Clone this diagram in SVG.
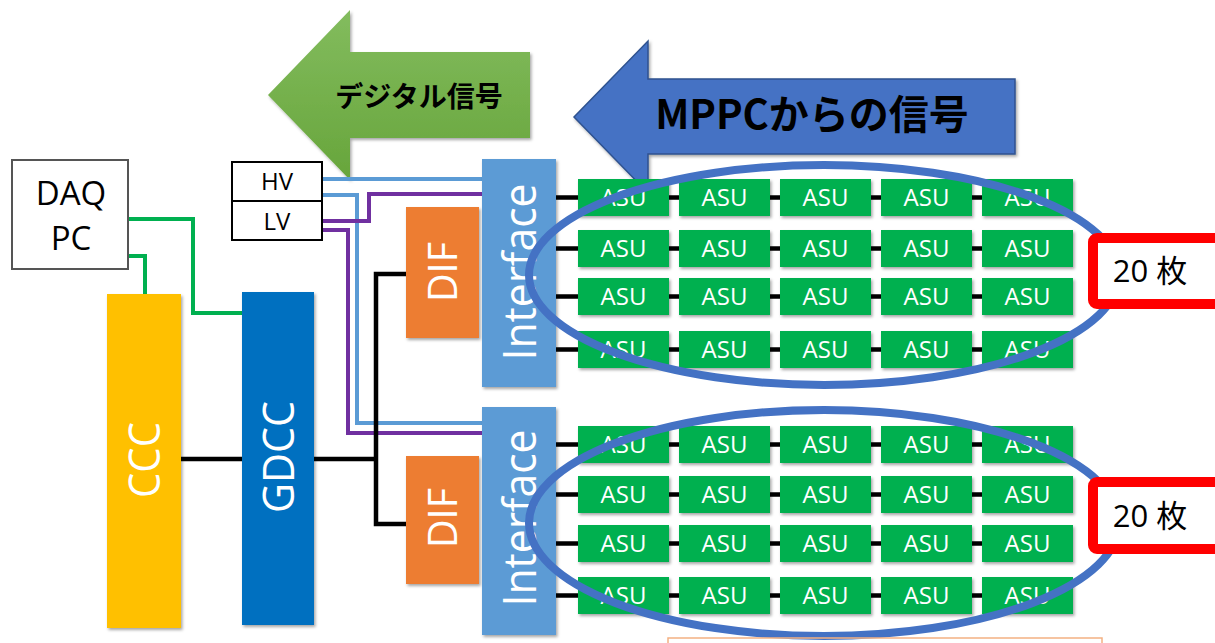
<svg xmlns="http://www.w3.org/2000/svg" width="1215" height="643" viewBox="0 0 1215 643">
<defs>
<style>
.lbl{font-family:"Open Sans","Liberation Sans",sans-serif;fill:#fff;}
.blk{font-family:"Open Sans","Liberation Sans",sans-serif;fill:#000;}
.jp{font-family:"Noto Sans CJK JP","Noto Sans",sans-serif;font-weight:bold;fill:#000;}
.asu{fill:#00B050;filter:url(#sh);}
.asut{font-family:"Open Sans","Liberation Sans",sans-serif;fill:#fff;font-size:24px;text-anchor:middle;}
.bl{stroke:#000;stroke-width:4.5;fill:none;}
.gr{stroke:#00B050;stroke-width:4;fill:none;}
.hv{stroke:#5B9BD5;stroke-width:4;fill:none;}
.lv{stroke:#7030A0;stroke-width:4;fill:none;}
.ell{fill:none;stroke:#4472C4;stroke-width:8;}
.red{fill:#fff;stroke:#FF0000;stroke-width:10;}
</style>
<filter id="sh" x="-10%" y="-10%" width="130%" height="130%">
<feDropShadow dx="1.5" dy="2" stdDeviation="1.5" flood-color="#000" flood-opacity="0.35"/>
</filter>
<linearGradient id="gg" x1="0" y1="0" x2="0" y2="1">
<stop offset="0" stop-color="#83BC5E"/>
<stop offset="1" stop-color="#67A53B"/>
</linearGradient>
</defs>
<rect width="1215" height="643" fill="#fff"/>

<g id="arrow-digital">
<polygon points="268,95 350,10 350,52 530,52 530,138 350,138 350,180" fill="url(#gg)" filter="url(#sh)"/>
<text class="jp" x="419" y="107" font-size="28" text-anchor="middle">デジタル信号</text>
</g>
<g id="arrow-mppc">
<polygon points="574,117 648,41 648,79 1015,79 1015,154 648,154 648,193" fill="#4472C4" stroke="#2F528F" stroke-width="1.5" filter="url(#sh)"/>
<text class="jp" x="812" y="129" font-size="40" text-anchor="middle">MPPCからの信号</text>
</g>

<g id="connectors">
<polyline class="gr" points="128,219 193,219 193,313 242,313"/>
<polyline class="gr" points="128,256 145,256 145,294"/>
<polyline class="hv" points="322,179 482,179"/>
<polyline class="hv" points="322,195 357,195 357,423 482,423"/>
<polyline class="lv" points="322,221 369,221 369,194 482,194"/>
<polyline class="lv" points="322,230 348,230 348,433 482,433"/>
<polyline class="bl" points="181,459 242,459"/>
<polyline class="bl" points="314,459 376,459"/>
<polyline class="bl" points="406,274 376,274 376,524 406,524"/>
<g id="asu-links">
<path class="bl" d="M556,197.5H578M556,248.5H578M556,296.5H578M556,349.5H578M556,444.5H578M556,494.5H578M556,543.5H578M556,595.5H578"/>
<path class="bl" d="M669,197.5H679M770,197.5H780M871,197.5H881M972,197.5H982M669,248.5H679M770,248.5H780M871,248.5H881M972,248.5H982M669,296.5H679M770,296.5H780M871,296.5H881M972,296.5H982M669,349.5H679M770,349.5H780M871,349.5H881M972,349.5H982"/>
<path class="bl" d="M669,444.5H679M770,444.5H780M871,444.5H881M972,444.5H982M669,494.5H679M770,494.5H780M871,494.5H881M972,494.5H982M669,543.5H679M770,543.5H780M871,543.5H881M972,543.5H982M669,595.5H679M770,595.5H780M871,595.5H881M972,595.5H982"/>
</g>
</g>

<g id="daq-pc">
<rect x="12" y="160" width="116" height="109" fill="#fff" stroke="#555" stroke-width="2"/>
<text class="blk" x="71" y="205" font-size="33" text-anchor="middle">DAQ</text>
<text class="blk" x="71" y="250" font-size="33" text-anchor="middle">PC</text>
</g>
<g id="hv">
<rect x="232" y="162" width="90" height="39" fill="#fff" stroke="#000" stroke-width="2"/>
<text class="blk" x="277" y="190" font-size="24" text-anchor="middle">HV</text>
</g>
<g id="lv">
<rect x="232" y="201" width="90" height="39" fill="#fff" stroke="#000" stroke-width="2"/>
<text class="blk" x="277" y="230" font-size="24" text-anchor="middle">LV</text>
</g>
<g id="ccc">
<rect x="107" y="294" width="74" height="334" fill="#FFC000" filter="url(#sh)"/>
<text class="lbl" transform="translate(160,460) rotate(-90)" font-size="44" text-anchor="middle" textLength="76" lengthAdjust="spacingAndGlyphs">CCC</text>
</g>
<g id="gdcc">
<rect x="242" y="292" width="72" height="333" fill="#0070C0" filter="url(#sh)"/>
<text class="lbl" transform="translate(294,457) rotate(-90)" font-size="44" text-anchor="middle" textLength="112" lengthAdjust="spacingAndGlyphs">GDCC</text>
</g>
<g id="dif1">
<rect x="406" y="207" width="73" height="131" fill="#ED7D31" filter="url(#sh)"/>
<text class="lbl" transform="translate(457,272) rotate(-90)" font-size="40" text-anchor="middle" textLength="60" lengthAdjust="spacingAndGlyphs">DIF</text>
</g>
<g id="dif2">
<rect x="406" y="456" width="73" height="128" fill="#ED7D31" filter="url(#sh)"/>
<text class="lbl" transform="translate(457,518) rotate(-90)" font-size="40" text-anchor="middle" textLength="60" lengthAdjust="spacingAndGlyphs">DIF</text>
</g>
<g id="interface1">
<rect x="482" y="159" width="74" height="228" fill="#5B9BD5" filter="url(#sh)"/>
<text class="lbl" transform="translate(536,272) rotate(-90)" font-size="46" text-anchor="middle" textLength="177" lengthAdjust="spacingAndGlyphs">Interface</text>
</g>
<g id="interface2">
<rect x="482" y="407" width="74" height="228" fill="#5B9BD5" filter="url(#sh)"/>
<text class="lbl" transform="translate(536,518) rotate(-90)" font-size="46" text-anchor="middle" textLength="177" lengthAdjust="spacingAndGlyphs">Interface</text>
</g>

<g id="asu-top">
<rect class="asu" x="578" y="179" width="91" height="37"/><rect class="asu" x="679" y="179" width="91" height="37"/><rect class="asu" x="780" y="179" width="91" height="37"/><rect class="asu" x="881" y="179" width="91" height="37"/><rect class="asu" x="982" y="179" width="91" height="37"/>
<rect class="asu" x="578" y="230" width="91" height="37"/><rect class="asu" x="679" y="230" width="91" height="37"/><rect class="asu" x="780" y="230" width="91" height="37"/><rect class="asu" x="881" y="230" width="91" height="37"/><rect class="asu" x="982" y="230" width="91" height="37"/>
<rect class="asu" x="578" y="278" width="91" height="37"/><rect class="asu" x="679" y="278" width="91" height="37"/><rect class="asu" x="780" y="278" width="91" height="37"/><rect class="asu" x="881" y="278" width="91" height="37"/><rect class="asu" x="982" y="278" width="91" height="37"/>
<rect class="asu" x="578" y="331" width="91" height="37"/><rect class="asu" x="679" y="331" width="91" height="37"/><rect class="asu" x="780" y="331" width="91" height="37"/><rect class="asu" x="881" y="331" width="91" height="37"/><rect class="asu" x="982" y="331" width="91" height="37"/>
<text class="asut" x="623.5" y="206">ASU</text><text class="asut" x="724.5" y="206">ASU</text><text class="asut" x="825.5" y="206">ASU</text><text class="asut" x="926.5" y="206">ASU</text><text class="asut" x="1027.5" y="206">ASU</text>
<text class="asut" x="623.5" y="257">ASU</text><text class="asut" x="724.5" y="257">ASU</text><text class="asut" x="825.5" y="257">ASU</text><text class="asut" x="926.5" y="257">ASU</text><text class="asut" x="1027.5" y="257">ASU</text>
<text class="asut" x="623.5" y="305">ASU</text><text class="asut" x="724.5" y="305">ASU</text><text class="asut" x="825.5" y="305">ASU</text><text class="asut" x="926.5" y="305">ASU</text><text class="asut" x="1027.5" y="305">ASU</text>
<text class="asut" x="623.5" y="358">ASU</text><text class="asut" x="724.5" y="358">ASU</text><text class="asut" x="825.5" y="358">ASU</text><text class="asut" x="926.5" y="358">ASU</text><text class="asut" x="1027.5" y="358">ASU</text>
</g>
<g id="asu-bottom">
<rect class="asu" x="578" y="426" width="91" height="37"/><rect class="asu" x="679" y="426" width="91" height="37"/><rect class="asu" x="780" y="426" width="91" height="37"/><rect class="asu" x="881" y="426" width="91" height="37"/><rect class="asu" x="982" y="426" width="91" height="37"/>
<rect class="asu" x="578" y="476" width="91" height="37"/><rect class="asu" x="679" y="476" width="91" height="37"/><rect class="asu" x="780" y="476" width="91" height="37"/><rect class="asu" x="881" y="476" width="91" height="37"/><rect class="asu" x="982" y="476" width="91" height="37"/>
<rect class="asu" x="578" y="525" width="91" height="37"/><rect class="asu" x="679" y="525" width="91" height="37"/><rect class="asu" x="780" y="525" width="91" height="37"/><rect class="asu" x="881" y="525" width="91" height="37"/><rect class="asu" x="982" y="525" width="91" height="37"/>
<rect class="asu" x="578" y="577" width="91" height="37"/><rect class="asu" x="679" y="577" width="91" height="37"/><rect class="asu" x="780" y="577" width="91" height="37"/><rect class="asu" x="881" y="577" width="91" height="37"/><rect class="asu" x="982" y="577" width="91" height="37"/>
<text class="asut" x="623.5" y="453">ASU</text><text class="asut" x="724.5" y="453">ASU</text><text class="asut" x="825.5" y="453">ASU</text><text class="asut" x="926.5" y="453">ASU</text><text class="asut" x="1027.5" y="453">ASU</text>
<text class="asut" x="623.5" y="503">ASU</text><text class="asut" x="724.5" y="503">ASU</text><text class="asut" x="825.5" y="503">ASU</text><text class="asut" x="926.5" y="503">ASU</text><text class="asut" x="1027.5" y="503">ASU</text>
<text class="asut" x="623.5" y="552">ASU</text><text class="asut" x="724.5" y="552">ASU</text><text class="asut" x="825.5" y="552">ASU</text><text class="asut" x="926.5" y="552">ASU</text><text class="asut" x="1027.5" y="552">ASU</text>
<text class="asut" x="623.5" y="604">ASU</text><text class="asut" x="724.5" y="604">ASU</text><text class="asut" x="825.5" y="604">ASU</text><text class="asut" x="926.5" y="604">ASU</text><text class="asut" x="1027.5" y="604">ASU</text>
</g>

<g id="ellipse-top"><ellipse class="ell" cx="824" cy="275" rx="295" ry="110"/></g>
<g id="ellipse-bottom"><ellipse class="ell" cx="824" cy="523" rx="295" ry="113"/></g>

<g id="count-top">
<rect class="red" x="1093" y="238" width="140" height="66" rx="4"/>
<text class="blk" x="1150" y="282" font-size="31" text-anchor="middle" style="font-family:'Open Sans','Noto Sans CJK JP',sans-serif">20 枚</text>
</g>
<g id="count-bottom">
<rect class="red" x="1093" y="482" width="140" height="67" rx="4"/>
<text class="blk" x="1150" y="527" font-size="31" text-anchor="middle" style="font-family:'Open Sans','Noto Sans CJK JP',sans-serif">20 枚</text>
</g>

<g id="partial-box">
<rect x="668" y="638" width="434" height="20" fill="none" stroke="#F4B183" stroke-width="1.5"/>
</g>
</svg>
